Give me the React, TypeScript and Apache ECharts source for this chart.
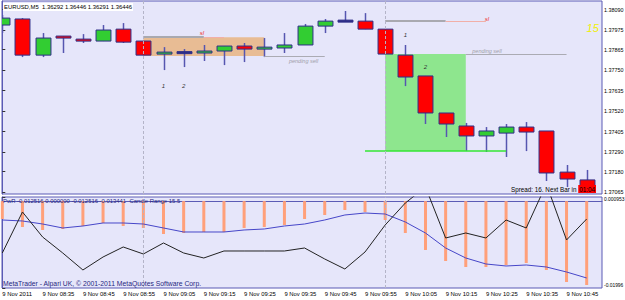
import React, { useEffect, useRef } from 'react';
import * as echarts from 'echarts';

// ---- data ----
const times = ['08:25','08:30','08:35','08:40','08:45','08:50','08:55','09:00','09:05','09:10','09:15','09:20','09:25','09:30','09:35','09:40','09:45','09:50','09:55','10:00','10:05','10:10','10:15','10:20','10:25','10:30','10:35','10:40','10:45','10:50'];
const opens  = [1.38003,1.38037,1.37834,1.37941,1.37924,1.37913,1.37980,1.37913,1.37840,1.37848,1.37846,1.37857,1.37885,1.37868,1.37874,1.37891,1.37997,1.38025,1.38025,1.37980,1.37834,1.37717,1.37509,1.37436,1.37380,1.37396,1.37430,1.37408,1.37177,1.37133];
const closes = [1.38042,1.37834,1.37930,1.37930,1.37919,1.37975,1.37907,1.37834,1.37851,1.37848,1.37857,1.37885,1.37868,1.37879,1.37891,1.37997,1.38025,1.38025,1.37980,1.37840,1.37711,1.37509,1.37447,1.37380,1.37408,1.37430,1.37402,1.37172,1.37138,1.37065];
const lows   = [1.37958,1.37823,1.37823,1.37846,1.37902,1.37913,1.37902,1.37834,1.37750,1.37767,1.37801,1.37778,1.37795,1.37823,1.37846,1.37891,1.37958,1.38025,1.37980,1.37840,1.37660,1.37447,1.37374,1.37295,1.37290,1.37262,1.37295,1.37127,1.37093,1.37059];
const highs  = [1.38059,1.38042,1.37958,1.37941,1.37952,1.38003,1.38014,1.37913,1.37879,1.37868,1.37891,1.37885,1.37902,1.37930,1.37958,1.38009,1.38037,1.38082,1.38070,1.37980,1.37891,1.37717,1.37509,1.37453,1.37430,1.37447,1.37458,1.37408,1.37217,1.37189];

const histValues   = [-0.004103,-0.005941,-0.006630,-0.006401,-0.005711,-0.005022,-0.005711,-0.006171,-0.007550,-0.007320,-0.007090,-0.007090,-0.006171,-0.005941,-0.005481,-0.004103,-0.003183,-0.002034,-0.002494,-0.004332,-0.007320,-0.011226,-0.013754,-0.015133,-0.015133,-0.014673,-0.014214,-0.015822,-0.018580,-0.019269];
const signalValues = [-0.004332,-0.004562,-0.005252,-0.006171,-0.005711,-0.005022,-0.005022,-0.005252,-0.006171,-0.007090,-0.007090,-0.007090,-0.006630,-0.006401,-0.005711,-0.005252,-0.004332,-0.003183,-0.002724,-0.002954,-0.004792,-0.007320,-0.010767,-0.013065,-0.014444,-0.014903,-0.014673,-0.015133,-0.016282,-0.017661];
const pwrValues    = [-0.011916,-0.002494,-0.008239,-0.011916,-0.015822,-0.012835,-0.010537,-0.012146,-0.009618,-0.011916,-0.013065,-0.011456,-0.011456,-0.011456,-0.011456,-0.010767,-0.013295,-0.015593,-0.011686,-0.005481,-0.000426,0.003251,-0.008469,-0.007320,-0.008469,-0.004332,-0.006171,0.003940,-0.008928,-0.004103];

const priceTicks = [1.38090,1.37975,1.37865,1.37750,1.37635,1.37520,1.37405,1.37290,1.37180,1.37065];
const priceMin = 1.37054;
const priceMax = 1.38138;
const subTicks = [0.000953, -0.01996];
const subTickLabels = ['0.000953', '-0.01996'];
const timeTickIdx = [0,2,4,6,8,10,12,14,16,18,20,22,24,26,28];
const dateLabel = '9 Nov 2011';
const hourSeparators = [7, 19];

// annotations (bar index / price)
const zoneLeft = [7, 13, 1.37935, 1.37829];
const zoneRight = [19, 23, 1.37840, 1.37295];
const slLeft = [7, 10, 11, 1.37935];
const slRight = [19, 22, 24, 1.38025];
const pendingLeft = [13, 16, 1.37829];
const pendingRight = [23, 28, 1.37840];
const triggerLine = [18, 25, 1.37295];

const FONT = '"Liberation Sans", Arial, sans-serif';
const BULL = '#32CD32';
const BEAR = '#FF0000';
const OUTLINE = '#2E2E88';
const WICK = '#5656B0';
const FRAME = '#5B5BB5';

export default function App() {
  const ref = useRef<HTMLDivElement>(null);
  useEffect(() => {
    document.body.style.margin = '0';
    const chart = echarts.init(ref.current!, null, { renderer: 'svg' });
    const candleData = times.map((_, i) => [i, opens[i], closes[i], lows[i], highs[i]]);
    const tickLabel = (v: number) => {
      const i = Math.round(v);
      return i === 0 ? dateLabel : '9 Nov ' + times[i];
    };
    const renderCandle = (params: any, api: any) => {
      const k = api.value(0);
      const o = api.value(1), c = api.value(2), lo = api.value(3), hi = api.value(4);
      const pO = api.coord([k, o]);
      const pC = api.coord([k, c]);
      const pL = api.coord([k, lo]);
      const pH = api.coord([k, hi]);
      const w = api.size([1, 0])[0] * 0.74;
      const cx = Math.round(pO[0]) + 0.5;
      const doji = Math.abs(o - c) < 1e-9;
      const top = doji ? pO[1] - 1 : Math.min(pO[1], pC[1]);
      const h = Math.max(Math.abs(pO[1] - pC[1]), 2);
      const fill = doji ? OUTLINE : c > o ? BULL : BEAR;
      return {
        type: 'group',
        children: [
          { type: 'line', shape: { x1: cx, y1: pH[1], x2: cx, y2: pL[1] }, style: { stroke: WICK, lineWidth: 1.5 } },
          { type: 'rect', shape: { x: cx - w / 2, y: top, width: w, height: h }, style: { fill, stroke: OUTLINE, lineWidth: 1 } },
        ],
      };
    };
    const seg = (x1: number, x2: number, y: number, color: string, width: number) => {
      const ls = { color, width, type: 'solid' as const };
      return [{ coord: [x1, y], lineStyle: ls }, { coord: [x2, y], lineStyle: ls }];
    };
    const txt = (name: string, x: number, y: number, color: string, size: number, style = 'italic') => ({
      name, coord: [x, y],
      label: { show: true, formatter: '{b}', color, fontSize: size, fontStyle: style, fontFamily: FONT, position: 'inside' },
    });
    const sepLines = hourSeparators.map((x) => ({ xAxis: x }));

    const option: any = {
      animation: false,
      backgroundColor: '#FFFFFF',
      textStyle: { fontFamily: FONT },
      grid: [
        { left: 2, top: 1, width: 600, height: 193, show: true, backgroundColor: '#E6E6FA', borderColor: FRAME, borderWidth: 1, containLabel: false, outerBoundsMode: 'none' },
        { left: 2, top: 197, width: 600, height: 91, show: true, backgroundColor: '#E6E6FA', borderColor: FRAME, borderWidth: 1, containLabel: false, outerBoundsMode: 'none' },
      ],
      xAxis: [
        { type: 'value', gridIndex: 0, min: -0.015, max: 29.76, show: false, splitLine: { show: false } },
        {
          type: 'value', gridIndex: 1, min: -0.015, max: 29.76, splitLine: { show: false },
          axisLine: { show: true, lineStyle: { color: FRAME } },
          axisTick: { show: true, customValues: timeTickIdx, length: 3, lineStyle: { color: '#333' } },
          axisLabel: { customValues: timeTickIdx, formatter: tickLabel, align: 'left', margin: 3, fontSize: 5.9, color: '#000', fontFamily: FONT },
        },
      ],
      yAxis: [
        {
          type: 'value', gridIndex: 0, position: 'right', min: priceMin, max: priceMax, scale: true,
          splitLine: { show: false },
          axisLine: { show: true, lineStyle: { color: FRAME } },
          axisTick: { show: true, customValues: priceTicks, length: 3, lineStyle: { color: '#333' } },
          axisLabel: { customValues: priceTicks, formatter: (v: number) => v.toFixed(5), margin: 2, fontSize: 5.4, color: '#000', fontFamily: FONT },
        },
        {
          type: 'value', gridIndex: 1, position: 'right', min: subTicks[1], max: subTicks[0],
          splitLine: { show: false },
          axisLine: { show: true, lineStyle: { color: FRAME } },
          axisTick: { show: true, customValues: subTicks, length: 3, lineStyle: { color: '#333' } },
          axisLabel: {
            customValues: subTicks,
            formatter: (v: number) => (v > -0.01 ? subTickLabels[0] : subTickLabels[1]),
            margin: 2, fontSize: 4.9, color: '#000', fontFamily: FONT,
            verticalAlignMaxLabel: 'bottom', verticalAlignMinLabel: 'top',
          },
        },
      ],
      series: [
        {
          type: 'line', xAxisIndex: 0, yAxisIndex: 0, data: [], z: 1, silent: true,
          markArea: {
            silent: true,
            data: [
              [{ coord: [zoneLeft[0], zoneLeft[2]], itemStyle: { color: '#E8BC94' } }, { coord: [zoneLeft[1], zoneLeft[3]] }],
              [{ coord: [zoneRight[0], zoneRight[2]], itemStyle: { color: '#8EE68E' } }, { coord: [zoneRight[1], zoneRight[3]] }],
            ],
          },
          markLine: {
            silent: true, symbol: ['none', 'none'], label: { show: false },
            data: [
              seg(slLeft[0], slLeft[1], slLeft[3], '#A9A9B0', 2),
              seg(slLeft[1], slLeft[2], slLeft[3], '#F2AFA8', 1),
              seg(slRight[0], slRight[1], slRight[3], '#A9A9B0', 2),
              seg(slRight[1], slRight[2], slRight[3], '#F2AFA8', 1),
              seg(pendingLeft[0], pendingLeft[1], pendingLeft[2], '#ABABB3', 1),
              seg(pendingRight[0], pendingRight[1], pendingRight[2], '#ABABB3', 1),
              seg(triggerLine[0], triggerLine[1], triggerLine[2], '#33E633', 1.5),
              ...sepLines.map((s) => ({ ...s, lineStyle: { color: '#B4B4C8', type: [3, 2], width: 1 } })),
            ],
          },
          markPoint: {
            silent: true, symbol: 'circle', symbolSize: 0,
            data: [
              txt('sl', 9.9, 1.37958, '#F03030', 6),
              txt('sl', 24.05, 1.38037, '#F03030', 6),
              txt('1', 8, 1.37660, '#333', 6),
              txt('2', 9, 1.37660, '#333', 6),
              txt('1', 20, 1.37947, '#333', 6),
              txt('2', 21, 1.37767, '#333', 6),
              txt('pending sell', 14.95, 1.37801, '#A0A0A8', 5.5),
              txt('pending sell', 24.05, 1.37857, '#A0A0A8', 5.5),
              txt('15', 29.3, 1.37986, '#F0F000', 11),
            ],
          },
        },
        {
          type: 'custom', xAxisIndex: 0, yAxisIndex: 0, z: 3, clip: true,
          renderItem: renderCandle,
          encode: { x: 0, y: [1, 2, 3, 4] },
          data: candleData,
        },
        {
          type: 'bar', xAxisIndex: 1, yAxisIndex: 1, barWidth: 3, z: 2,
          itemStyle: { color: '#FFA07A' },
          data: histValues.map((v, i) => [i, v]),
          markLine: {
            silent: true, symbol: ['none', 'none'], label: { show: false },
            data: sepLines.map((s) => ({ ...s, lineStyle: { color: '#B4B4C8', type: [3, 2], width: 1 } })),
          },
        },
        {
          type: 'line', xAxisIndex: 1, yAxisIndex: 1, z: 3, showSymbol: false, clip: true,
          lineStyle: { color: '#4646C8', width: 1 },
          data: signalValues.map((v, i) => [i, v]),
        },
        {
          type: 'line', xAxisIndex: 1, yAxisIndex: 1, z: 4, showSymbol: false, clip: true,
          lineStyle: { color: '#222222', width: 1 },
          data: pwrValues.map((v, i) => [i, v]),
        },
      ],
      graphic: [
        {
          type: 'text', x: 3, y: 7, z: 100,
          style: {
            text: 'EURUSD,M5  1.36292 1.36446 1.36291 1.36446', fill: '#000', font: `5.9px ${FONT}`,
            verticalAlign: 'middle', align: 'left', backgroundColor: '#FFFFFF', padding: [1, 1],
          },
        },
        {
          type: 'text', x: 3, y: 201, z: 100,
          style: { text: 'PwR -0.012516 0.000000 -0.012516 -0.013441  Candle Range 15.5', fill: '#262680', font: `5.9px ${FONT}`, verticalAlign: 'middle', align: 'left' },
        },
        {
          type: 'text', x: 3, y: 283, z: 100,
          style: { text: 'MetaTrader - Alpari UK, © 2001-2011 MetaQuotes Software Corp.', fill: '#262680', font: `6.8px ${FONT}`, verticalAlign: 'middle', align: 'left' },
        },
        {
          type: 'text', x: 596, y: 189, z: 100,
          style: {
            text: '{a|Spread: 16. Next Bar in }{b|01:04}', align: 'right', verticalAlign: 'middle',
            rich: {
              a: { fill: '#000', fontSize: 6.3, fontFamily: FONT },
              b: { fill: '#000', fontSize: 6.3, fontFamily: FONT, backgroundColor: '#FF0000', padding: [1, 1] },
            },
          },
        },
      ],
    };
    chart.setOption(option);
    return () => chart.dispose();
  }, []);
  return <div ref={ref} style={{ width: 625, height: 300 }} />;
}
